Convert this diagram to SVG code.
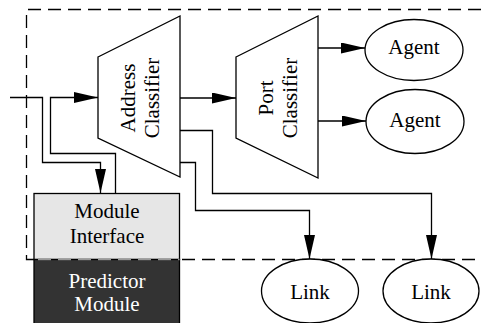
<svg xmlns="http://www.w3.org/2000/svg" width="481" height="323" viewBox="0 0 481 323">
<defs>
<marker id="ah" markerUnits="userSpaceOnUse" markerWidth="24" markerHeight="11" refX="24" refY="5.5" orient="auto">
<path d="M0,0 L24,5.5 L0,11 z" fill="#000"/>
</marker>
<style>
.ln{fill:none;stroke:#000;stroke-width:1.3}
.sh{fill:#fff;stroke:#000;stroke-width:1.3}
.dash{fill:none;stroke:#000;stroke-width:1.3;stroke-dasharray:13 7}
.t{font-family:"Liberation Serif","Times New Roman",serif;font-size:21px;text-anchor:middle;fill:#000}
.w{fill:#fff}
</style>
</defs>
<rect width="481" height="323" fill="#fff"/>
<g id="boundary">
<path class="dash" d="M481,9.5 H26.5 V259.5 H481"/>
</g>
<g id="module-interface">
<rect x="34" y="193.5" width="145.5" height="66" fill="#e6e6e6" stroke="#000" stroke-width="1.3"/>
<text class="t" x="107" y="218">Module</text>
<text class="t" x="107" y="243">Interface</text>
</g>
<g id="predictor-module">
<rect x="34" y="259.5" width="145.5" height="70" fill="#333" stroke="#000" stroke-width="1.3"/>
<line x1="34" y1="259.5" x2="179.5" y2="259.5" stroke="#999" stroke-width="1.3" stroke-dasharray="13 7" stroke-dashoffset="-4"/>
<text class="t w" x="107" y="288">Predictor</text>
<text class="t w" x="107" y="311">Module</text>
</g>
<g id="address-classifier">
<path class="sh" d="M98,57 L180,16 L180,177 L98,138 Z"/>
<text class="t" transform="translate(135,98) rotate(-90)">Address</text>
<text class="t" transform="translate(159,98) rotate(-90)">Classifier</text>
</g>
<g id="port-classifier">
<path class="sh" d="M236,57 L318,16 L318,178 L236,138 Z"/>
<text class="t" transform="translate(273,98) rotate(-90)">Port</text>
<text class="t" transform="translate(297,98) rotate(-90)">Classifier</text>
</g>
<g id="agent1">
<ellipse class="sh" cx="414" cy="50" rx="49" ry="30.5"/>
<text class="t" x="414" y="54">Agent</text>
</g>
<g id="agent2">
<ellipse class="sh" cx="415" cy="121.5" rx="49" ry="32"/>
<text class="t" x="415" y="127">Agent</text>
</g>
<g id="link1">
<ellipse class="sh" cx="310" cy="291" rx="48.5" ry="32"/>
<text class="t" x="310" y="299">Link</text>
</g>
<g id="link2">
<ellipse class="sh" cx="431" cy="291" rx="48" ry="32"/>
<text class="t" x="431" y="299">Link</text>
</g>
<g id="connectors">
<path class="ln" d="M10,97.5 H42.5 V162.5 H100.5 V193" marker-end="url(#ah)"/>
<path class="ln" d="M115.5,193 V153.5 H50.5 V97.5 H98" marker-end="url(#ah)"/>
<path class="ln" d="M180,98 H236" marker-end="url(#ah)"/>
<path class="ln" d="M318,48 H365" marker-end="url(#ah)"/>
<path class="ln" d="M318,121 H366" marker-end="url(#ah)"/>
<path class="ln" d="M180,130.5 H212.5 V193.5 H431.5 V259" marker-end="url(#ah)"/>
<path class="ln" d="M180,162.5 H195.5 V210.5 H309.5 V259" marker-end="url(#ah)"/>
</g>
</svg>
